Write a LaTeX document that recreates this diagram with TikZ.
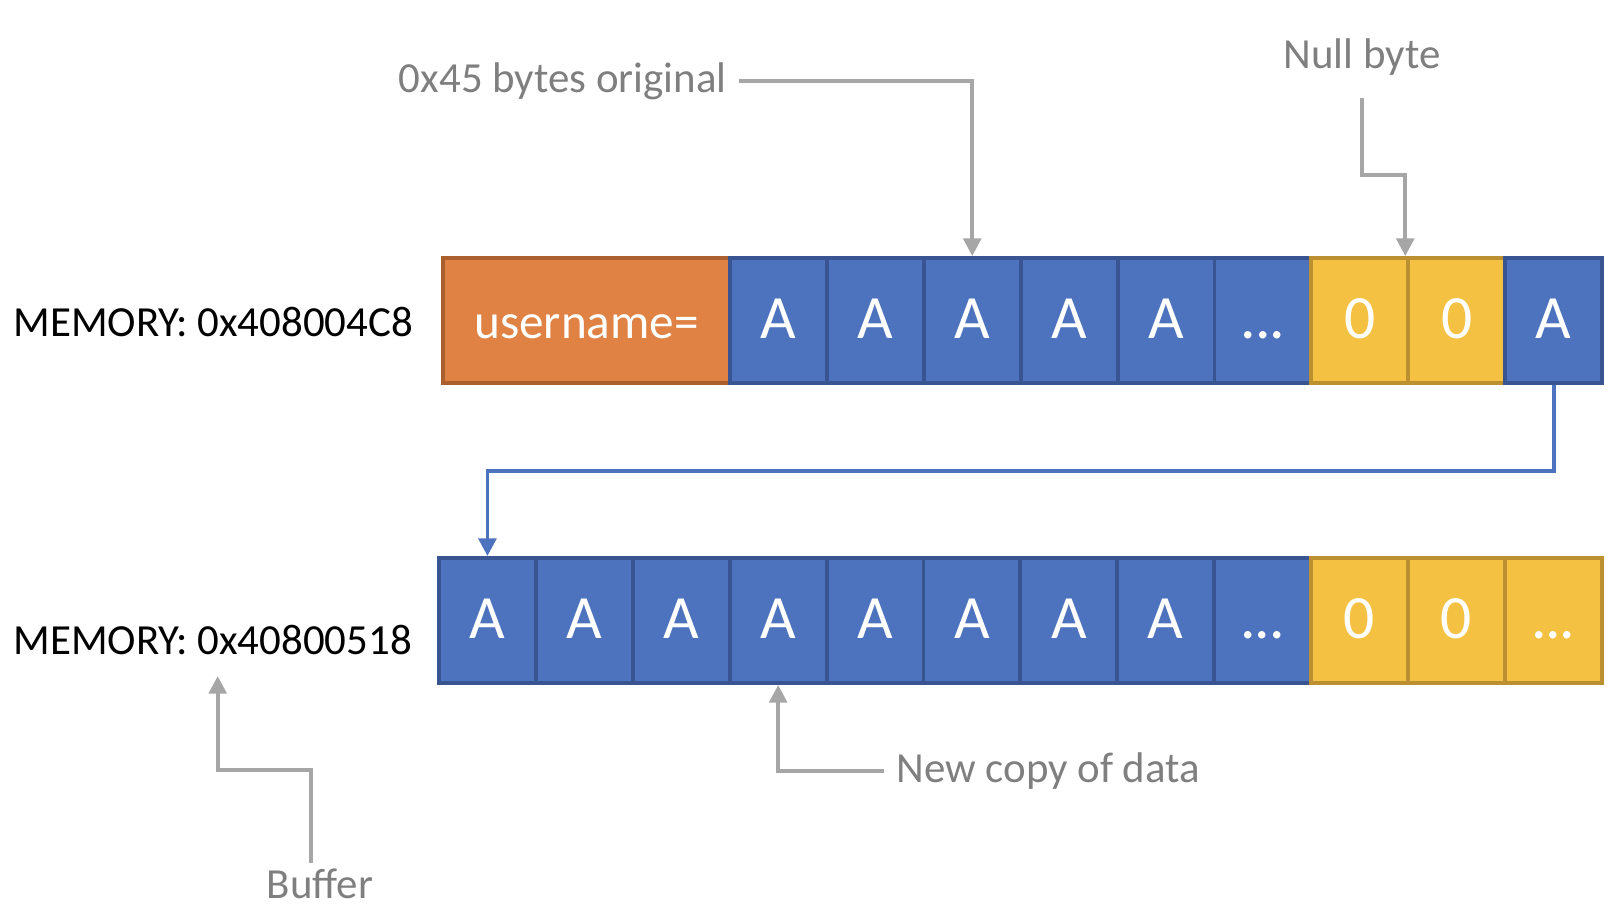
\documentclass[tikz,border=0pt]{standalone}
\usepackage{fontspec}
\setmainfont{Carlito}
\usepackage{xcolor}
\usepackage{tikz}
\usetikzlibrary{arrows.meta, calc, positioning}

\definecolor{cellblue}{HTML}{4E73BE}
\definecolor{cellblueedge}{HTML}{385591}
\definecolor{cellorange}{HTML}{DF8244}
\definecolor{cellorangeedge}{HTML}{A9602E}
\definecolor{cellyellow}{HTML}{F4C142}
\definecolor{cellyellowedge}{HTML}{BC8F30}
\definecolor{notegray}{HTML}{7F7F7F}
\definecolor{linegray}{HTML}{A6A6A6}
\newcommand{\celldots}{.\kern-0.02em.\kern-0.02em.}

\begin{document}
\begin{tikzpicture}[x=0.01cm,y=-0.01cm,>={Triangle[width=5pt,length=5pt]},
  cell/.style={minimum width=0.969cm,minimum height=1.25cm,inner sep=0pt,
               line width=1.1pt,text=white,text height=10.4pt,text depth=0pt,
               font=\fontsize{17.5}{19}\selectfont},
  acell/.style={cell,fill=cellblue,draw=cellblueedge},
  zcell/.style={cell,fill=cellyellow,draw=cellyellowedge},
  note/.style={text=notegray,font=\fontsize{12.2}{14}\selectfont},
  memlabel/.style={font=\fontsize{12.2}{14}\selectfont},
  callout/.style={->,draw=linegray,line width=1.1pt},
  copyline/.style={->,draw=cellblue,line width=1.1pt}]
  \useasboundingbox (0,0) rectangle (1624,918);

  % ---- top: original buffer ----
  \node[memlabel,anchor=west] (mem1) at (1,322) {MEMORY: 0x408004C8};
  \node[cell,fill=cellorange,draw=cellorangeedge,minimum width=2.87cm,
        font=\fontsize{14}{16}\selectfont] (user) at (586.5,320.5) {username=};
  \foreach \txt/\kind [count=\i] in {A/acell,A/acell,A/acell,A/acell,A/acell,\celldots/acell,0/zcell,0/zcell,A/acell} {
    \node[\kind] (t\i) at ({730+96.9*(\i-0.5)},320.5) {\txt};
  }

  % ---- bottom: copied buffer ----
  \node[memlabel,anchor=west] (mem2) at (1,640) {MEMORY: 0x40800518};
  \foreach \txt/\kind [count=\i] in {A/acell,A/acell,A/acell,A/acell,A/acell,A/acell,A/acell,A/acell,\celldots/acell,0/zcell,0/zcell,\celldots/zcell} {
    \node[\kind] (b\i) at ({439+96.9*(\i-0.5)},620.5) {\txt};
  }

  % ---- notes ----
  \node[note,anchor=east] (orig) at (739,81) {0x45 bytes original};
  \node[note] (nb) at (1362,57) {Null byte};
  \node[note,anchor=west] (nc) at (884,771) {New copy of data};
  \node[note] (buf) at (320,884) {Buffer};

  \draw[callout] (orig.east) -| (t3.north);
  \draw[callout,shorten <=3pt] (nb.south) -- ++(0,87) -| ($(t7.north east)+(-5,0)$);
  \draw[callout] (nc.west) -| (b4.south);
  \draw[callout,shorten >=2.5pt] ($(buf.north)+(-9,6)$) -- ++(0,-93) -| ($(mem2.south)+(5,0)$);

  % copy of the overflowing bytes
  \draw[copyline] (t9.south) -- ++(0,86) -| (b1.north);
\end{tikzpicture}
\end{document}
